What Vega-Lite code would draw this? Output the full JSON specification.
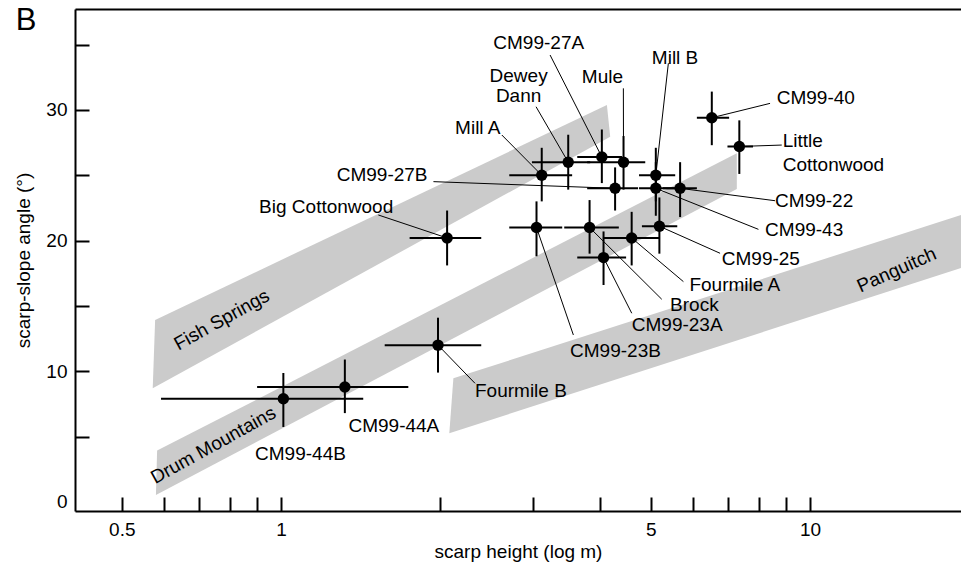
{
  "$schema": "https://vega.github.io/schema/vega-lite/v6.json",
  "width": 886,
  "height": 502,
  "autosize": {"type": "none"},
  "padding": {"left": 75, "top": 9, "right": 0, "bottom": 54},
  "background": "white",
  "config": {"view": {"stroke": null}, "font": "Liberation Sans", "text": {"font": "Liberation Sans"}},
  "datasets": {
    "panel": [{"text": "B", "x": 0.3296, "y": 36.11}],
    "bands": [
      {"band": "Fish Springs", "i": 0, "bx": 0.578, "by": 13.93},
      {"band": "Fish Springs", "i": 1, "bx": 4.13, "by": 30.37},
      {"band": "Fish Springs", "i": 2, "bx": 4.19, "by": 27.95},
      {"band": "Fish Springs", "i": 3, "bx": 0.572, "by": 8.70},
      {"band": "Drum Mountains", "i": 0, "bx": 0.583, "by": 3.93},
      {"band": "Drum Mountains", "i": 1, "bx": 7.27, "by": 26.68},
      {"band": "Drum Mountains", "i": 2, "bx": 7.27, "by": 23.95},
      {"band": "Drum Mountains", "i": 3, "bx": 0.580, "by": 0.54},
      {"band": "Panguitch", "i": 0, "bx": 2.117, "by": 9.46},
      {"band": "Panguitch", "i": 1, "bx": 20, "by": 22.16},
      {"band": "Panguitch", "i": 2, "bx": 20, "by": 18.10},
      {"band": "Panguitch", "i": 3, "bx": 2.08, "by": 5.26}
    ],
    "bandlabels": [
      {"text": "Fish Springs", "x": 0.7724, "y": 13.93},
      {"text": "Drum Mountains", "x": 0.7447, "y": 4.34},
      {"text": "Panguitch", "x": 14.58, "y": 17.75}
    ],
    "points": [
      {"name": "Mill A", "h": 3.11, "hlo": 2.70, "hhi": 3.55, "a": 25.0, "alo": 23.0, "ahi": 27.1, "ex": 2.614, "ey": 28.08},
      {"name": "Dewey Dann", "h": 3.49, "hlo": 2.98, "hhi": 3.84, "a": 26.0, "alo": 23.9, "ahi": 28.1, "ex": 3.034, "ey": 30.24},
      {"name": "CM99-27A", "h": 4.04, "hlo": 3.63, "hhi": 4.41, "a": 26.4, "alo": 24.4, "ahi": 28.5, "ex": 3.225, "ey": 34.20},
      {"name": "Mule", "h": 4.44, "hlo": 3.79, "hhi": 4.88, "a": 26.0, "alo": 23.9, "ahi": 28.0, "ex": 4.437, "ey": 31.65},
      {"name": "CM99-27B", "h": 4.28, "hlo": 3.79, "hhi": 4.73, "a": 24.0, "alo": 22.3, "ahi": 25.6, "ex": 1.941, "ey": 24.51},
      {"name": "Mill B", "h": 5.11, "hlo": 4.75, "hhi": 5.56, "a": 25.0, "alo": 23.0, "ahi": 27.1, "ex": 5.397, "ey": 33.57},
      {"name": "CM99-43", "h": 5.11, "hlo": 4.75, "hhi": 5.61, "a": 24.0, "alo": 21.9, "ahi": 26.0, "ex": 7.987, "ey": 20.86},
      {"name": "CM99-22", "h": 5.68, "hlo": 5.27, "hhi": 6.11, "a": 24.0, "alo": 21.8, "ahi": 26.0, "ex": 8.588, "ey": 23.05},
      {"name": "CM99-23B", "h": 3.04, "hlo": 2.70, "hhi": 3.40, "a": 21.0, "alo": 18.8, "ahi": 23.0, "ex": 3.569, "ey": 12.78},
      {"name": "Brock", "h": 3.83, "hlo": 3.43, "hhi": 4.35, "a": 21.0, "alo": 19.0, "ahi": 23.1, "ex": 5.244, "ey": 15.51},
      {"name": "Fourmile A", "h": 4.60, "hlo": 4.06, "hhi": 5.20, "a": 20.2, "alo": 18.1, "ahi": 22.2, "ex": 5.762, "ey": 16.86},
      {"name": "CM99-25", "h": 5.19, "hlo": 4.81, "hhi": 5.61, "a": 21.1, "alo": 19.0, "ahi": 23.3, "ex": 6.759, "ey": 19.03},
      {"name": "CM99-23A", "h": 4.07, "hlo": 3.63, "hhi": 4.49, "a": 18.7, "alo": 16.6, "ahi": 20.7, "ex": 4.602, "ey": 14.44},
      {"name": "CM99-40", "h": 6.52, "hlo": 6.11, "hhi": 7.03, "a": 29.4, "alo": 27.3, "ahi": 31.4, "ex": 8.402, "ey": 30.50},
      {"name": "Little Cottonwood", "h": 7.35, "hlo": 6.98, "hhi": 7.80, "a": 27.2, "alo": 25.1, "ahi": 29.2, "ex": 8.841, "ey": 27.31},
      {"name": "Big Cottonwood", "h": 2.06, "hlo": 1.75, "hhi": 2.39, "a": 20.2, "alo": 18.1, "ahi": 22.3, "ex": 1.527, "ey": 21.96},
      {"name": "CM99-44B", "h": 1.01, "hlo": 0.593, "hhi": 1.43, "a": 7.9, "alo": 5.74, "ahi": 9.87},
      {"name": "CM99-44A", "h": 1.32, "hlo": 0.901, "hhi": 1.74, "a": 8.8, "alo": 6.8, "ahi": 10.9},
      {"name": "Fourmile B", "h": 1.98, "hlo": 1.57, "hhi": 2.39, "a": 12.0, "alo": 9.9, "ahi": 14.1, "ex": 2.326, "ey": 9.08}
    ],
    "labels": [
      {"text": "Big Cottonwood", "lx": 0.9088, "ly": 22.13},
      {"text": "Mill A", "lx": 2.133, "ly": 28.13},
      {"text": "CM99-27B", "lx": 1.274, "ly": 24.58},
      {"text": "Fourmile B", "lx": 2.326, "ly": 8.03},
      {"text": "CM99-23B", "lx": 3.518, "ly": 11.12},
      {"text": "CM99-23A", "lx": 4.602, "ly": 13.11},
      {"text": "Brock", "lx": 5.437, "ly": 14.64},
      {"text": "Fourmile A", "lx": 5.914, "ly": 16.17},
      {"text": "CM99-25", "lx": 6.809, "ly": 18.13},
      {"text": "CM99-43", "lx": 8.223, "ly": 20.37},
      {"text": "CM99-22", "lx": 8.588, "ly": 22.59},
      {"text": "CM99-27A", "lx": 2.519, "ly": 34.64},
      {"text": "Mule", "lx": 3.703, "ly": 32.03},
      {"text": "Mill B", "lx": 5.022, "ly": 33.51},
      {"text": "CM99-40", "lx": 8.650, "ly": 30.45},
      {"text": "Little", "lx": 8.878, "ly": 27.18},
      {"text": "Cottonwood", "lx": 8.878, "ly": 25.35},
      {"text": "CM99-44A", "lx": 1.341, "ly": 5.38},
      {"text": "CM99-44B", "lx": 0.893, "ly": 3.21}
    ],
    "stacked": [
      {"text": ["Dewey", "Dann"], "lx": 2.812, "ly": 32.10}
    ]
  },
  "layer": [
    {
      "data": {"name": "bands"},
      "mark": {"type": "line", "interpolate": "linear-closed", "fill": "#cbcbcb", "strokeWidth": 0, "clip": true},
      "encoding": {
        "x": {
          "field": "bx", "type": "quantitative",
          "scale": {"type": "log", "domain": [0.4078, 19.29], "nice": false},
          "axis": {
            "orient": "bottom",
            "values": [0.5, 0.6, 0.7, 0.8, 0.9, 1, 2, 3, 4, 5, 6, 7, 8, 9, 10],
            "labelExpr": "indexof([0.5, 1, 5, 10], datum.value) >= 0 ? format(datum.value, '~g') : ''",
            "labelOverlap": false, "labelFlush": false,
            "grid": false,
            "tickSize": -14, "tickWidth": 2, "tickColor": "black",
            "domainColor": "black", "domainWidth": 2,
            "labelFontSize": 19, "labelColor": "black", "labelFont": "Liberation Sans", "labelPadding": 23,
            "title": "scarp height (log m)", "titleFontSize": 19, "titleFontWeight": "normal", "titleColor": "black", "titleFont": "Liberation Sans", "titlePadding": 3
          }
        },
        "y": {
          "field": "by", "type": "quantitative",
          "scale": {"domain": [-0.69, 37.72], "nice": false, "zero": false},
          "axis": {
            "values": [0, 5, 10, 15, 20, 25, 30, 35],
            "labelExpr": "datum.value % 10 === 0 ? datum.label : ''",
            "grid": false,
            "tickSize": -14, "tickWidth": 2,
            "tickColor": {"condition": {"test": "datum.value === 0", "value": "transparent"}, "value": "black"},
            "domainColor": "black", "domainWidth": 2,
            "labelFontSize": 19, "labelColor": "black", "labelFont": "Liberation Sans", "labelPadding": 22,
            "title": "scarp-slope angle (°)", "titleFontSize": 19, "titleFontWeight": "normal", "titleColor": "black", "titleFont": "Liberation Sans", "titlePadding": 12
          }
        },
        "detail": {"field": "band"},
        "order": {"field": "i", "type": "quantitative"}
      }
    },
    {
      "data": {"name": "bandlabels"},
      "transform": [{"filter": "datum.text !== 'Panguitch'"}],
      "mark": {"type": "text", "angle": 331, "fontSize": 19, "color": "black", "align": "center", "baseline": "middle"},
      "encoding": {
        "x": {"field": "x", "type": "quantitative", "axis": null},
        "y": {"field": "y", "type": "quantitative"},
        "text": {"field": "text"}
      }
    },
    {
      "data": {"name": "bandlabels"},
      "transform": [{"filter": "datum.text === 'Panguitch'"}],
      "mark": {"type": "text", "angle": 336, "fontSize": 19, "color": "black", "align": "center", "baseline": "middle"},
      "encoding": {
        "x": {"field": "x", "type": "quantitative", "axis": null},
        "y": {"field": "y", "type": "quantitative"},
        "text": {"field": "text"}
      }
    },
    {
      "data": {"name": "points"},
      "mark": {"type": "rule", "strokeWidth": 2, "color": "black"},
      "encoding": {
        "x": {"field": "hlo", "type": "quantitative", "axis": null},
        "x2": {"field": "hhi"},
        "y": {"field": "a", "type": "quantitative"}
      }
    },
    {
      "data": {"name": "points"},
      "mark": {"type": "rule", "strokeWidth": 2, "color": "black"},
      "encoding": {
        "x": {"field": "h", "type": "quantitative", "axis": null},
        "y": {"field": "alo", "type": "quantitative"},
        "y2": {"field": "ahi"}
      }
    },
    {
      "data": {"name": "points"},
      "transform": [{"filter": "isValid(datum.ex)"}],
      "mark": {"type": "rule", "strokeWidth": 1, "color": "black"},
      "encoding": {
        "x": {"field": "h", "type": "quantitative", "axis": null},
        "y": {"field": "a", "type": "quantitative"},
        "x2": {"field": "ex"},
        "y2": {"field": "ey"}
      }
    },
    {
      "data": {"name": "points"},
      "mark": {"type": "circle", "size": 130, "color": "black", "opacity": 1},
      "encoding": {
        "x": {
          "field": "h", "type": "quantitative",
          "axis": {"orient": "top", "labels": false, "ticks": false, "domain": true, "domainWidth": 2, "domainColor": "black", "title": null, "grid": false}
        },
        "y": {"field": "a", "type": "quantitative"}
      }
    },
    {
      "data": {"name": "labels"},
      "mark": {"type": "text", "fontSize": 19, "color": "black", "align": "left", "baseline": "alphabetic"},
      "encoding": {
        "x": {"field": "lx", "type": "quantitative", "axis": null},
        "y": {"field": "ly", "type": "quantitative"},
        "text": {"field": "text"}
      }
    },
    {
      "data": {"name": "stacked"},
      "mark": {"type": "text", "fontSize": 19, "color": "black", "align": "center", "baseline": "alphabetic", "lineHeight": 19.5},
      "encoding": {
        "x": {"field": "lx", "type": "quantitative", "axis": null},
        "y": {"field": "ly", "type": "quantitative"},
        "text": {"field": "text"}
      }
    },
    {
      "data": {"name": "panel"},
      "mark": {"type": "text", "fontSize": 31, "color": "black", "align": "center", "baseline": "alphabetic", "clip": false},
      "encoding": {
        "x": {"field": "x", "type": "quantitative", "axis": null},
        "y": {"field": "y", "type": "quantitative"},
        "text": {"field": "text"}
      }
    }
  ],
  "resolve": {"axis": {"x": "independent"}}
}
